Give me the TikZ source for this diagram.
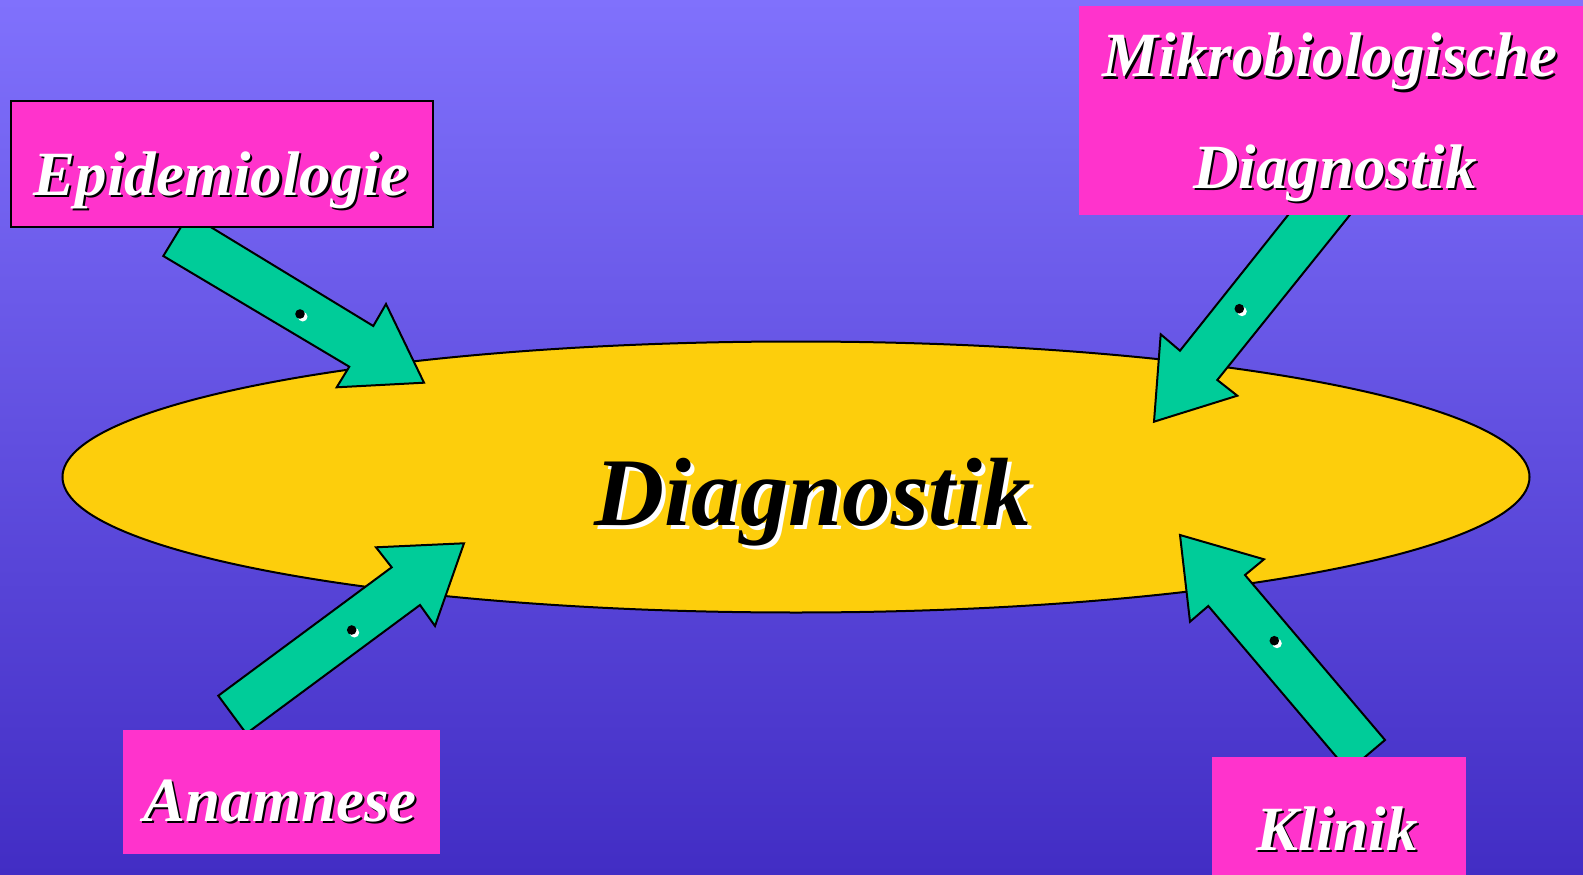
\documentclass[tikz,border=0pt]{standalone}
\usepackage{fontspec}
\setmainfont{Liberation Serif}
\usetikzlibrary{calc,shapes.geometric}
\definecolor{bgtop}{RGB}{128,113,252}
\definecolor{bgbot}{RGB}{66,45,196}
\definecolor{boxpink}{RGB}{255,51,204}
\definecolor{ellyellow}{RGB}{253,206,12}
\definecolor{arrgreen}{RGB}{0,204,153}
\tikzset{
  pinkbox/.style={fill=boxpink, inner sep=0pt, outer sep=0pt, rectangle},
  blockarrow/.style={fill=arrgreen, draw=black, line width=2pt, line join=miter},
  labeltext/.style={font=\fontsize{63}{63}\selectfont\bfseries\itshape, anchor=base, inner sep=0pt, outer sep=0pt},
  bigtext/.style={font=\fontsize{97}{97}\selectfont\bfseries\itshape, anchor=base, inner sep=0pt, outer sep=0pt},
}
\newcommand{\shadowlabel}[3]{%
  \node[labeltext, text=black] (#1s) at ($(#2)+(2.2,2.2)$) {#3};
  \node[labeltext, text=white] (#1) at (#2) {#3};
}
\newcommand{\dotmark}[2]{%
  \fill[white] ($(#2)+(2.7,2.7)$) circle (4.8);
  \fill[black] (#2) coordinate (#1) circle (4.8);
}
\begin{document}
\begin{tikzpicture}[x=1pt,y=-1pt]
\useasboundingbox (0,0) rectangle (1583,875);
\shade[top color=bgtop, bottom color=bgbot] (0,0) rectangle (1583,875);

% central ellipse
\node[ellipse, draw=black, line width=2pt, fill=ellyellow, minimum width=1467pt, minimum height=271pt, inner sep=0pt] (diag) at (796,477) {};

% arrows
\draw[blockarrow] (189,213.8) -- (373.3,326) -- (386,304) -- (424,382.7) -- (336.7,387.3) -- (349.3,366.7) -- (163.3,256) -- cycle;
\draw[blockarrow] (1308,190) -- (1180,350.7) -- (1160.7,334.3) -- (1154,421.7) -- (1237.3,395.7) -- (1217.3,380) -- (1370,190) -- cycle;
\draw[blockarrow] (218.3,695.7) -- (391.7,567.3) -- (376,547.3) -- (464,543.3) -- (435,626) -- (420,605) -- (246.3,733.6) -- cycle;
\draw[blockarrow] (1385,740) -- (1245,575) -- (1264,559.3) -- (1180,535) -- (1190,621.7) -- (1208.3,606) -- (1348.4,771) -- cycle;

\dotmark{d1}{300,314}
\dotmark{d2}{1239.3,308.7}
\dotmark{d3}{351.7,630}
\dotmark{d4}{1274.3,640.7}

% boxes
\node[pinkbox, draw=black, line width=2pt, minimum width=422pt, minimum height=126pt] (epibox) at (222,164) {};
\node[pinkbox, minimum width=504pt, minimum height=209pt] (mikbox) at (1331,110.5) {};
\node[pinkbox, minimum width=317pt, minimum height=124pt] (anabox) at (281.5,792) {};
\node[pinkbox, minimum width=254pt, minimum height=118pt] (klibox) at (1339,816) {};

% labels
\shadowlabel{epi}{221,195}{Epidemiologie}
\shadowlabel{mik1}{1330,77}{Mikrobiologische}
\shadowlabel{mik2}{1335,188}{Diagnostik}
\shadowlabel{ana}{280,821.5}{Anamnese}
\shadowlabel{kli}{1337,850.5}{Klinik}

% central text
\node[bigtext, text=white] (cts) at (817,529) {Diagnostik};
\node[bigtext, text=black] (ct) at (813,525) {Diagnostik};
\end{tikzpicture}
\end{document}
